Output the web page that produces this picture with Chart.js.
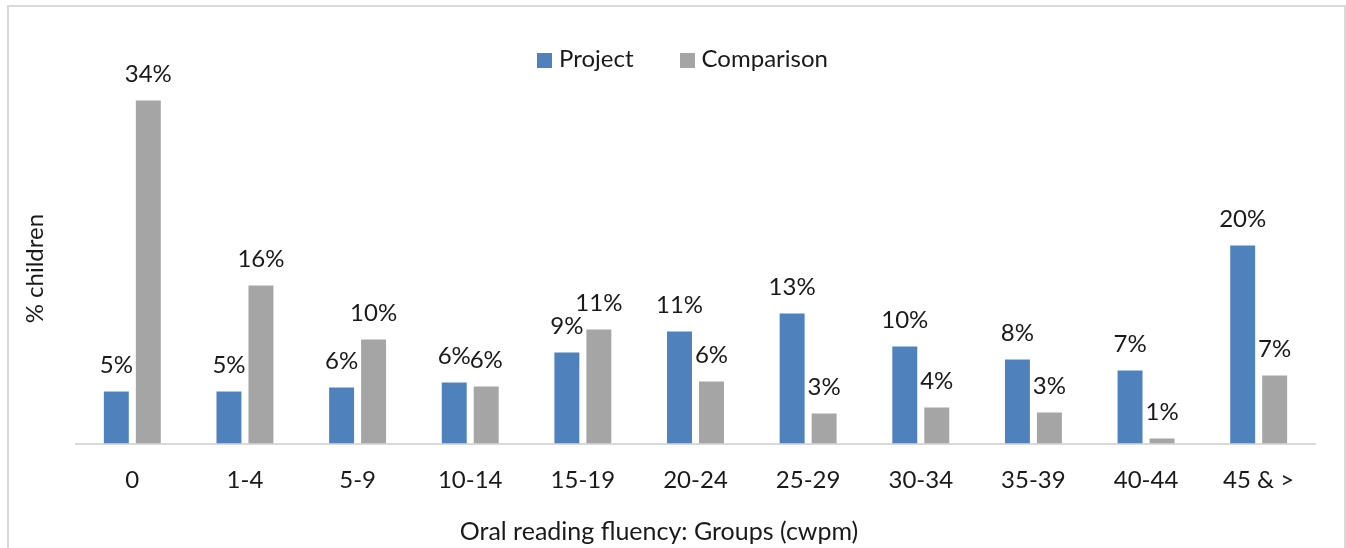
<!DOCTYPE html>
<html>
<head>
<meta charset="utf-8">
<script src="https://cdn.jsdelivr.net/npm/chart.js@4.4.1/dist/chart.umd.min.js"></script>
<style>
  html, body { margin: 0; padding: 0; background: #fff; width: 1346px; height: 548px; overflow: hidden; font-family: Lato, "Open Sans", sans-serif; }
  #frame { position: absolute; left: 7px; top: 5px; width: 1339px; height: 600px; border: 2px solid #d9d9d9; box-sizing: border-box; }
  #chart { position: absolute; left: 0; top: 0; }
  #legend { position: absolute; top: 46px; left: 537px; display: flex; align-items: center; gap: 46px; font-size: 24px; color: #1a1a1a; line-height: 29px; }
  #legend .item { display: flex; align-items: center; }
  #legend .sw { width: 15px; height: 15px; margin-right: 7px; }
  #legend .txt { position: relative; top: -3px; }
</style>
</head>
<body>
<div id="frame"></div>
<canvas id="chart" width="1346" height="548"></canvas>
<div id="legend"></div>
<script>
// Reading-fluency groups (correct words per minute)
const categories = ['0', '1-4', '5-9', '10-14', '15-19', '20-24', '25-29', '30-34', '35-39', '40-44', '45 & >'];
// Share of children in each group, percent
const projectPct    = [5.2, 5.2, 5.6, 6.1, 9.1, 11.2, 13.0, 9.7, 8.4, 7.3, 19.8];
const comparisonPct = [34.3, 15.8, 10.4, 5.7, 11.4, 6.2, 3.0, 3.6, 3.1, 0.5, 6.8];
const seriesNames   = ['Project', 'Comparison'];
const seriesColors  = ['#4f81bd', '#a5a5a5'];
const xAxisTitle    = 'Oral reading fluency: Groups (cwpm)';
const yAxisTitle    = '% children';

const FONT = { family: 'Lato, "Open Sans", sans-serif', size: 24 };
const TEXT = '#1a1a1a';

// Percent labels above each bar, positioned from the bar elements,
// plus the category-axis title placed under the tick labels
const barValueLabels = {
  id: 'barValueLabels',
  afterDatasetsDraw(chart) {
    const ctx = chart.ctx;
    ctx.save();
    ctx.font = `${FONT.size}px ${FONT.family}`;
    ctx.fillStyle = TEXT;
    ctx.textAlign = 'center';
    ctx.textBaseline = 'alphabetic';
    chart.data.datasets.forEach((ds, i) => {
      const meta = chart.getDatasetMeta(i);
      meta.data.forEach((bar, j) => {
        ctx.fillText(Math.round(ds.data[j]) + '%', bar.x, bar.y - 19);
      });
    });
    ctx.font = `25px ${FONT.family}`;
    ctx.fillText(xAxisTitle, 659, 540);
    ctx.restore();
  }
};

const chart = new Chart(document.getElementById('chart'), {
  type: 'bar',
  data: {
    labels: categories,
    datasets: [
      { label: seriesNames[0], data: projectPct, backgroundColor: seriesColors[0] },
      { label: seriesNames[1], data: comparisonPct, backgroundColor: seriesColors[1] }
    ].map(ds => Object.assign(ds, { categoryPercentage: 0.568, barPercentage: 0.78, borderWidth: 0 }))
  },
  options: {
    responsive: false,
    animation: false,
    layout: { padding: { left: 10, right: 31, top: 93.6, bottom: 30.6 } },
    plugins: { legend: { display: false }, tooltip: { enabled: false } },
    scales: {
      x: {
        grid: { display: false, drawTicks: false },
        border: { display: true, color: '#d9d9d9', width: 2 },
        ticks: { font: FONT, color: TEXT, padding: 22.5, maxRotation: 0, autoSkip: false },
        title: { display: false }
      },
      y: {
        min: 0, max: 35,
        grid: { display: false, drawTicks: false },
        border: { display: false },
        ticks: { display: false },
        title: { display: true, text: yAxisTitle, font: FONT, color: TEXT, padding: { top: 10.6, bottom: 26.6 } }
      }
    }
  },
  plugins: [barValueLabels]
});

// Legend built from the chart's datasets
const legendEl = document.getElementById('legend');
chart.data.datasets.forEach(ds => {
  const item = document.createElement('div');
  item.className = 'item';
  const sw = document.createElement('span');
  sw.className = 'sw';
  sw.style.background = ds.backgroundColor;
  const txt = document.createElement('span');
  txt.className = 'txt';
  txt.textContent = ds.label;
  item.appendChild(sw);
  item.appendChild(txt);
  legendEl.appendChild(item);
});
</script>
</body>
</html>
